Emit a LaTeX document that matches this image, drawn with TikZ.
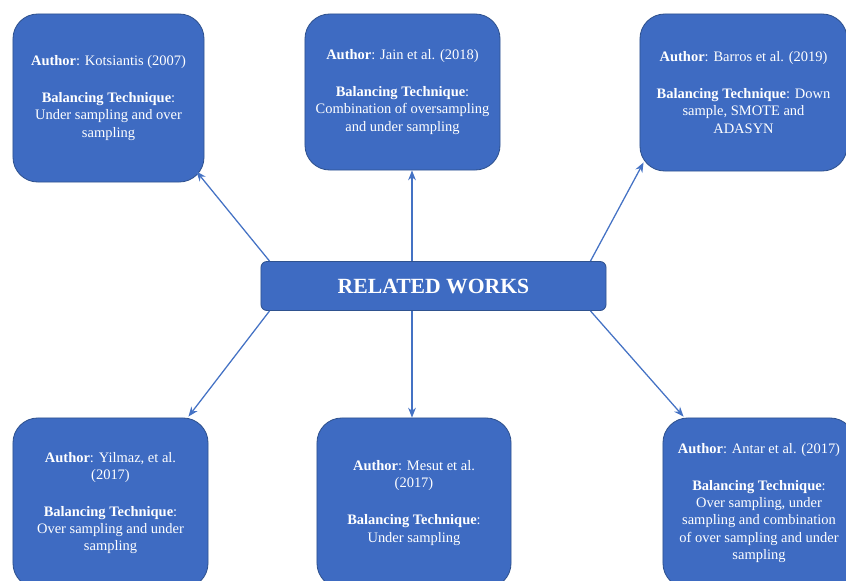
\documentclass[tikz,border=0pt]{standalone}
\usepackage{fontspec}
\setmainfont{Liberation Serif}
\usepackage{xcolor}
\usepackage{tikz}
\usetikzlibrary{positioning, arrows.meta}
\definecolor{boxblue}{RGB}{62,107,194}
\definecolor{boxedge}{RGB}{47,82,143}
\definecolor{linkblue}{RGB}{68,114,196}
\newcommand{\AuthorLine}[1]{\textbf{Author}: #1}
\newcommand{\TechLine}{\textbf{Balancing Technique}:}

\begin{document}
\begin{tikzpicture}[x=0.025cm, y=-0.025cm,
  workbox/.style={draw=boxedge, fill=boxblue, line width=0.6pt, rounded corners=0.62cm,
    text=white, align=center, inner sep=0pt, font=\fontsize{10.3}{12.3}\selectfont},
  hubbox/.style={draw=boxedge, fill=boxblue, line width=0.6pt, rounded corners=0.15cm,
    text=white, minimum width=8.625cm, minimum height=1.225cm, inner sep=0pt,
    font=\fontsize{15.4}{18}\selectfont\bfseries},
  link/.style={draw=linkblue, line width=0.9pt, -{Stealth[length=7pt, width=5.5pt]}}]
\useasboundingbox (0,0) rectangle (846,580);

% centre box
\node[hubbox] (rw) at (433.5,286) {RELATED WORKS};

% upper boxes
\node[workbox, minimum width=4.775cm, minimum height=4.2cm] (kot) at (108.5,98)
  {\AuthorLine{Kotsiantis (2007)}\\[14pt] \TechLine\\ Under sampling and over\\ sampling};
\node[workbox, minimum width=4.875cm, minimum height=3.9cm] (jain) at (402.5,92)
  {\AuthorLine{Jain et al. (2018)}\\[14pt] \TechLine\\ Combination of oversampling\\ and under sampling};
\node[workbox, minimum width=5.175cm, minimum height=3.925cm] (barros) at (743.5,92.5)
  {\AuthorLine{Barros et al. (2019)}\\[14pt] \TechLine{} Down\\ sample, SMOTE and\\ ADASYN};

% lower boxes
\node[workbox, minimum width=4.875cm, minimum height=4.25cm] (yil) at (110.5,503)
  {\AuthorLine{Yilmaz, et al.}\\ (2017)\\[14pt] \TechLine\\ Over sampling and under\\ sampling};
\node[workbox, minimum width=4.85cm, minimum height=4.25cm] (mesut) at (414,503)
  {\AuthorLine{Mesut et al.}\\ (2017)\\[14pt] \TechLine\\ Under sampling};
\node[workbox, minimum width=4.8cm, minimum height=4.25cm] (antar) at (759,503)
  {\AuthorLine{Antar et al. (2017)}\\[14pt] \TechLine\\ Over sampling, under\\ sampling and combination\\ of over sampling and under\\ sampling};

% arrows from the centre
\coordinate (mid) at (412,0);
\draw[link] ([shift={(9,0)}]rw.north west) -- ([shift={(-8,-11)}]kot.south east);
\draw[link] (mid |- rw.north) -- (mid |- jain.south);
\draw[link] ([shift={(-16,0)}]rw.north east) -- ([shift={(4,-9)}]barros.south west);
\draw[link] ([shift={(9,0)}]rw.south west) -- ([shift={(-20,-1)}]yil.north east);
\draw[link] (mid |- rw.south) -- (mid |- mesut.north);
\draw[link] ([shift={(-16,0)}]rw.south east) -- ([shift={(21,-1)}]antar.north west);
\end{tikzpicture}
\end{document}
